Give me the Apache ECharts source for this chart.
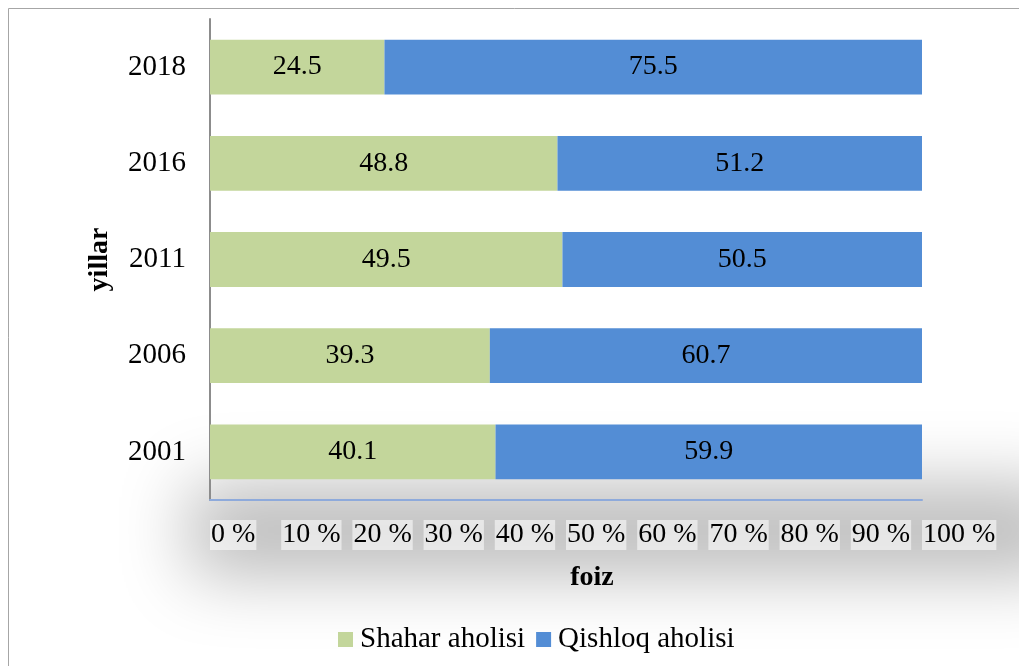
<!DOCTYPE html>
<html>
<head>
<meta charset="utf-8">
<script src="https://cdn.jsdelivr.net/npm/echarts@6/dist/echarts.min.js"></script>
<style>
  html, body { margin: 0; padding: 0; background: #fff; }
  #chart { width: 1019px; height: 666px; }
</style>
</head>
<body>
<div id="chart"></div>
<script>
// years from bottom to top
var years = ['2001', '2006', '2011', '2016', '2018'];
var shahar = [40.1, 39.3, 49.5, 48.8, 24.5];
var qishloq = [59.9, 60.7, 50.5, 51.2, 75.5];
var seriesNames = ['Shahar aholisi', 'Qishloq aholisi'];

var serif = '"Liberation Serif", "DejaVu Serif", serif';

var chart = echarts.init(document.getElementById('chart'));

var labelStyle = {
    show: true,
    position: 'inside',
    color: '#000',
    fontFamily: serif,
    fontSize: 28,
    formatter: function (p) { return p.value.toFixed(1); }
};

var option = {
    animation: false,
    textStyle: { fontFamily: serif },
    graphic: [
        {
            type: 'rect',
            z: -10,
            shape: { x: 8.5, y: 8.5, width: 1030, height: 680 },
            style: { fill: 'none', stroke: '#a6a6a6', lineWidth: 1 }
        },
        {
            // soft shadow under the plot: shape sits off screen, only its shadow shows
            type: 'rect',
            z: -5,
            shape: { x: 190, y: 485 - 3000, width: 880, height: 90 },
            style: {
                fill: '#000',
                shadowColor: 'rgba(0,0,0,0.27)',
                shadowBlur: 70,
                shadowOffsetY: 3000
            }
        }
    ],
    grid: { left: 210, right: 97, top: 19, bottom: 166 },
    legend: {
        bottom: 7,
        left: 333,
        itemWidth: 15,
        itemHeight: 15,
        itemGap: 11,
        icon: 'rect',
        textStyle: { fontFamily: serif, fontSize: 29, color: '#000', padding: [0, 0, 0, 2] },
        data: seriesNames
    },
    xAxis: {
        type: 'value',
        min: 0,
        max: 100,
        interval: 10,
        name: 'foiz',
        nameLocation: 'middle',
        nameGap: 64,
        nameTextStyle: { fontFamily: serif, fontSize: 28, fontWeight: 'bold', color: '#000', padding: [0, 0, 0, 52] },
        axisLine: { show: true, lineStyle: { color: '#8eaadb', width: 2 } },
        axisTick: { show: false },
        splitLine: { show: false },
        axisLabel: {
            align: 'left',
            margin: 20,
            fontFamily: serif,
            fontSize: 28,
            color: '#000',
            backgroundColor: 'rgba(255,255,255,0.55)',
            padding: [1, 1, 1, 1],
            formatter: '{value} %'
        }
    },
    yAxis: {
        type: 'category',
        data: years,
        name: 'yillar',
        nameLocation: 'middle',
        nameGap: 96,
        nameRotate: 90,
        nameTextStyle: { fontFamily: serif, fontSize: 28, fontWeight: 'bold', color: '#000' },
        axisLine: { show: true, lineStyle: { color: '#8c8c8c', width: 2 } },
        axisTick: { show: false },
        axisLabel: { margin: 24, fontFamily: serif, fontSize: 29, color: '#000' }
    },
    series: [
        {
            name: seriesNames[0],
            type: 'bar',
            stack: 'total',
            barWidth: '57%',
            itemStyle: { color: '#c3d69b' },
            label: labelStyle,
            data: shahar
        },
        {
            name: seriesNames[1],
            type: 'bar',
            stack: 'total',
            barWidth: '57%',
            itemStyle: { color: '#538dd5' },
            label: labelStyle,
            data: qishloq
        }
    ]
};

chart.setOption(option);
</script>
</body>
</html>
